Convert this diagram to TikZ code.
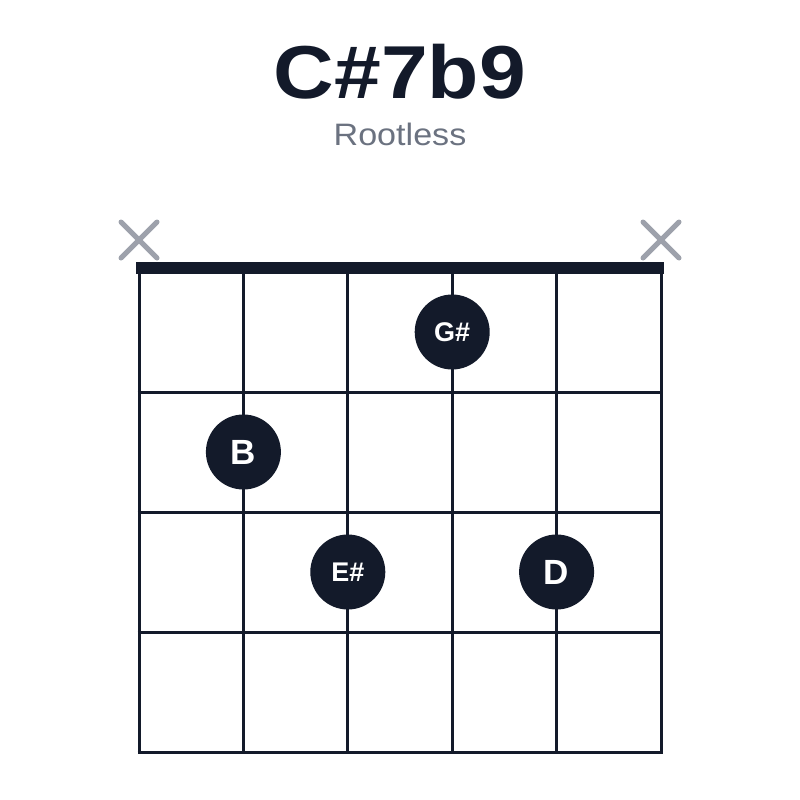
\documentclass[tikz,border=0pt]{standalone}
\usepackage{fontspec}
\setmainfont{Liberation Sans}
\usetikzlibrary{positioning}
\usetikzlibrary{calc}
\definecolor{ink}{HTML}{131A2A}
\definecolor{mute}{HTML}{9DA1AB}
\definecolor{subgray}{HTML}{6B7280}

\begin{document}
\begin{tikzpicture}[x=1pt, y=-1pt, dot/.style={circle, fill=ink, text=white, minimum size=75pt, inner sep=0pt, font=\bfseries\fontsize{35}{35}\selectfont}, dotsmall/.style={dot, font=\bfseries\fontsize{27}{27}\selectfont}, mutex/.style={mute, line width=5pt, line cap=round}]
            \useasboundingbox (0,0) rectangle (800,800);
            \node[ink, xscale=1.12, font=\bfseries\fontsize{75}{75}\selectfont] (title) at (400,72) {C\#7b9};
            \node[subgray, xscale=1.1, font=\fontsize{31}{31}\selectfont] (sub) at (400,134) {Rootless};

            % strings and frets
            \foreach \s in {139,243.4,347.8,452.2,556.6,661}
                \draw[ink, line width=3pt] (\s,268) -- (\s,752);
            \foreach \f in {392,512,632,752}
                \draw[ink, line width=3pt] (137.5,\f) -- (662.5,\f);
            \draw[ink, line width=12pt] (136,268) -- (664,268);

            % muted strings
            \coordinate (m1) at (139,240);
            \coordinate (m6) at (661,240);
            \draw[mutex] ($(m1)+(-18,-18)$) -- ($(m1)+(18,18)$) ($(m1)+(-18,18)$) -- ($(m1)+(18,-18)$);
            \draw[mutex] ($(m6)+(-18,-18)$) -- ($(m6)+(18,18)$) ($(m6)+(-18,18)$) -- ($(m6)+(18,-18)$);

            \node[dotsmall] (gs) at (452.2,332) {G\#};
            \node[dot] (b) at (243.4,452) {B};
            \node[dotsmall] (es) at (347.8,572) {E\#};
            \node[dot] (d) at (556.6,572) {D};
        \end{tikzpicture}
\end{document}
